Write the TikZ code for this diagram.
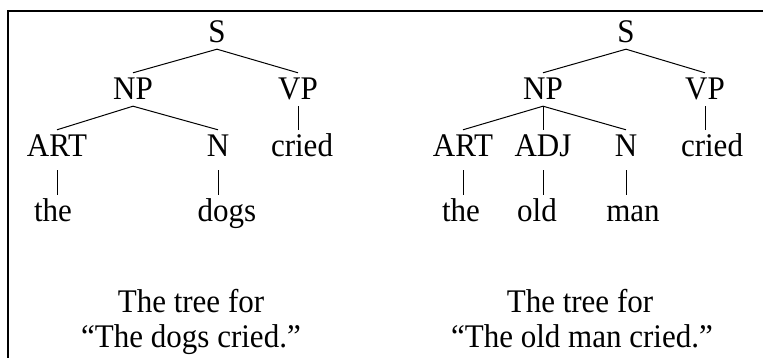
\documentclass[tikz,border=0pt]{standalone}
\usepackage{fontspec}
\setmainfont{Liberation Serif}[FakeStretch=0.94]
\begin{document}
\begin{tikzpicture}[x=1pt,y=-1pt,
  every node/.style={font=\fontsize{33}{35}\selectfont,anchor=base,inner xsep=0pt,inner ysep=6pt,text height=21pt,text depth=0pt},
  pre/.style={text depth=7pt},
  branch/.style={line width=1pt}]
  \useasboundingbox (0,0) rectangle (763,358);
  \draw[line width=2pt] (8,358) -- (8,11) -- (763,11);
  % the dogs cried
  \begin{scope}
    \node (s1) at (217,43) {S};
    \node (np1) at (133,100) {NP};
    \node (vp1) at (298,100) {VP};
    \node[pre] (art1) at (57,157) {ART};
    \node[pre] (n1) at (218,157) {N};
    \node (cried1) at (302,157) {cried};
    \node (the1) at (53,222) {the};
    \node (dogs1) at (227,222) {dogs};
    \draw[branch] (s1.south) -- (np1.north);
    \draw[branch] (s1.south) -- (vp1.north);
    \draw[branch] (np1.south) -- (art1.north);
    \draw[branch] (np1.south) -- (n1.north);
    \draw[branch] (vp1.south) -- (vp1.south |- cried1.north);
    \draw[branch] (art1.south) -- (art1.south |- the1.north);
    \draw[branch] (n1.south) -- (n1.south |- dogs1.north);
    \node (capa1) at (191,312) {The tree for};
    \node (capa2) at (191,347) {“The dogs cried.”};
  \end{scope}
  % the old man cried
  \begin{scope}
    \node (s2) at (626,43) {S};
    \node (np2) at (543,100) {NP};
    \node (vp2) at (705,100) {VP};
    \node[pre] (art2) at (463,157) {ART};
    \node[pre] (adj2) at (543,157) {ADJ};
    \node[pre] (n2) at (626,157) {N};
    \node (cried2) at (712,157) {cried};
    \node (the2) at (461,222) {the};
    \node (old2) at (537,222) {old};
    \node (man2) at (633,222) {man};
    \draw[branch] (s2.south) -- (np2.north);
    \draw[branch] (s2.south) -- (vp2.north);
    \draw[branch] (np2.south) -- (art2.north);
    \draw[branch] (np2.south) -- (adj2.north);
    \draw[branch] (np2.south) -- (n2.north);
    \draw[branch] (vp2.south) -- (vp2.south |- cried2.north);
    \draw[branch] (art2.south) -- (art2.south |- the2.north);
    \draw[branch] (adj2.south) -- (adj2.south |- old2.north);
    \draw[branch] (n2.south) -- (n2.south |- man2.north);
    \node (capb1) at (580,312) {The tree for};
    \node (capb2) at (582,347) {“The old man cried.”};
  \end{scope}
\end{tikzpicture}
\end{document}
